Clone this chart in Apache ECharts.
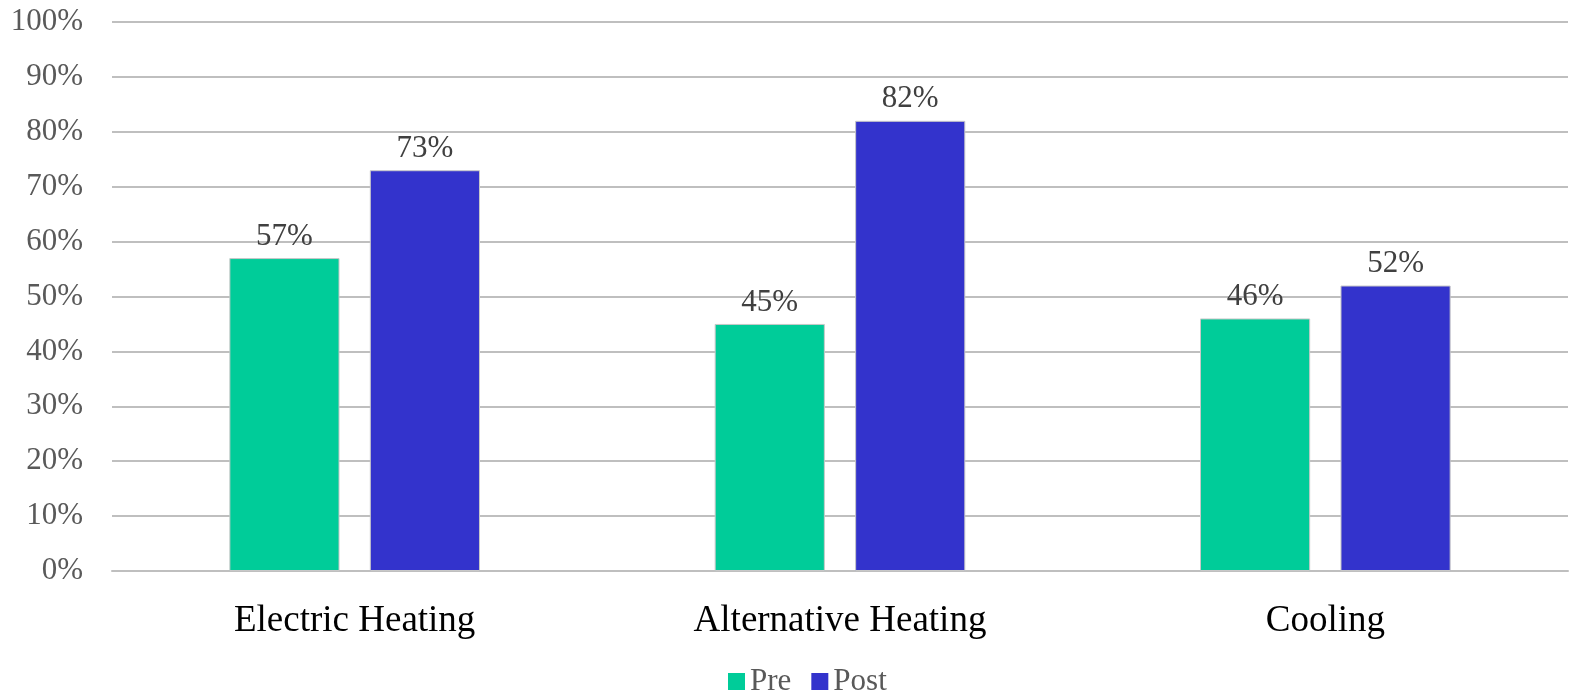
<!DOCTYPE html>
<html>
<head>
<meta charset="utf-8">
<script src="https://cdn.jsdelivr.net/npm/echarts@6/dist/echarts.min.js"></script>
<style>
  html, body { margin: 0; padding: 0; background: #fff; }
  #chart { width: 1572px; height: 693px; }
</style>
</head>
<body>
<div id="chart"></div>
<script>
const categories = ["Electric Heating", "Alternative Heating", "Cooling"]
const preValues = [57, 45, 46]
const postValues = [73, 82, 52]

const font = "'Liberation Serif', 'Times New Roman', serif"

let myChart = echarts.init(document.getElementById("chart"))

function barSeries(name, values, color) {
  return {
    name: name,
    type: "bar",
    data: values,
    barWidth: "22.7%",
    barGap: "27.5%",
    itemStyle: { color: color, borderColor: "#c8c8c8", borderWidth: 1 },
    label: {
      show: true,
      position: "top",
      distance: 6,
      formatter: "{c}%",
      color: "#404040",
      fontFamily: font,
      fontSize: 31,
    },
  }
}

myChart.setOption({
  animation: false,
  textStyle: { fontFamily: font },
  grid: { left: 112, right: 4, top: 22, bottom: 122 },
  legend: {
    top: 661,
    left: 723,
    itemWidth: 17,
    itemHeight: 17,
    itemGap: 20,
    icon: "rect",
    itemStyle: { borderWidth: 0 },
    textStyle: { color: "#595959", fontFamily: font, fontSize: 31 },
    data: ["Pre", "Post"],
  },
  xAxis: {
    type: "category",
    data: categories,
    axisLine: { lineStyle: { color: "#bfbfbf", width: 2 } },
    axisTick: { show: false },
    axisLabel: { color: "#000", fontFamily: font, fontSize: 37, margin: 32 },
  },
  yAxis: {
    type: "value",
    min: 0,
    max: 100,
    interval: 10,
    axisLabel: {
      formatter: "{value}%",
      color: "#595959",
      fontFamily: font,
      fontSize: 31,
      margin: 29,
    },
    splitLine: { lineStyle: { color: "#bfbfbf", width: 2 } },
    axisLine: { show: false },
    axisTick: { show: false },
  },
  series: [
    barSeries("Pre", preValues, "#00cc99"),
    barSeries("Post", postValues, "#3333cc"),
  ],
})
</script>
</body>
</html>
